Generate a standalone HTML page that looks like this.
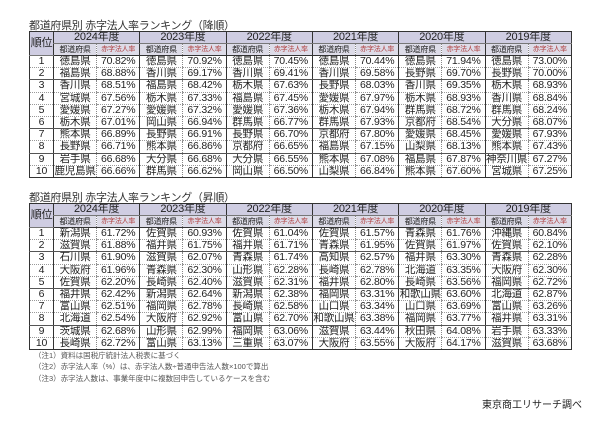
<!DOCTYPE html>
<html><head><meta charset="utf-8"><style>
html,body{margin:0;padding:0;background:#fff;width:600px;height:425px;overflow:hidden}
body{font-family:"Liberation Sans","Noto Sans CJK JP",sans-serif;color:#222;position:relative}
.t{position:absolute;left:29px;font-size:11px;color:#333;letter-spacing:-0.3px}
table{position:absolute;left:29px;border-collapse:collapse;table-layout:fixed;width:543px;border:1.5px solid #333}
td{padding:0;text-align:center;font-size:10.5px;height:11.2px;line-height:11px;border-left:1px dotted #888;border-bottom:1px dotted #999;white-space:nowrap;overflow:hidden;letter-spacing:-0.2px}
td.b{border-left:1px solid #333}
tr.h1 td{background:#cfcde2;font-size:11px;height:11px;border-bottom:1px solid #777}
tr.h2 td{background:#dddce8;font-size:8px;height:11px;border-bottom:1px solid #333}
tr.h2 td.r{color:#b04040;font-size:7px}
td.rk{background:#cfcde2;font-size:10px;border-bottom:1px solid #333}
tr.s td{border-bottom:1px solid #555}
.n{position:absolute;left:34px;font-size:7.5px;color:#555}
</style></head><body>
<div class="t" style="top:17px">都道府県別 赤字法人率ランキング（降順）</div>
<table style="top:31px">
<colgroup><col style="width:24px"><col span="12"></colgroup>
<tr class="h1"><td rowspan="2" class="rk">順位</td><td colspan="2" class="b">2024年度</td><td colspan="2" class="b">2023年度</td><td colspan="2" class="b">2022年度</td><td colspan="2" class="b">2021年度</td><td colspan="2" class="b">2020年度</td><td colspan="2" class="b">2019年度</td></tr>
<tr class="h2"><td class="b">都道府県</td><td class="r">赤字法人率</td><td class="b">都道府県</td><td class="r">赤字法人率</td><td class="b">都道府県</td><td class="r">赤字法人率</td><td class="b">都道府県</td><td class="r">赤字法人率</td><td class="b">都道府県</td><td class="r">赤字法人率</td><td class="b">都道府県</td><td class="r">赤字法人率</td></tr>
<tr><td>1</td><td class="b">徳島県</td><td>70.82%</td><td class="b">徳島県</td><td>70.92%</td><td class="b">徳島県</td><td>70.45%</td><td class="b">徳島県</td><td>70.44%</td><td class="b">徳島県</td><td>71.94%</td><td class="b">徳島県</td><td>73.00%</td></tr>
<tr class="s"><td>2</td><td class="b">福島県</td><td>68.88%</td><td class="b">香川県</td><td>69.17%</td><td class="b">香川県</td><td>69.41%</td><td class="b">香川県</td><td>69.58%</td><td class="b">長野県</td><td>69.70%</td><td class="b">長野県</td><td>70.00%</td></tr>
<tr><td>3</td><td class="b">香川県</td><td>68.51%</td><td class="b">福島県</td><td>68.42%</td><td class="b">栃木県</td><td>67.63%</td><td class="b">長野県</td><td>68.03%</td><td class="b">香川県</td><td>69.35%</td><td class="b">栃木県</td><td>68.93%</td></tr>
<tr><td>4</td><td class="b">宮城県</td><td>67.56%</td><td class="b">栃木県</td><td>67.33%</td><td class="b">福島県</td><td>67.45%</td><td class="b">愛媛県</td><td>67.97%</td><td class="b">栃木県</td><td>68.93%</td><td class="b">香川県</td><td>68.84%</td></tr>
<tr><td>5</td><td class="b">愛媛県</td><td>67.27%</td><td class="b">愛媛県</td><td>67.32%</td><td class="b">愛媛県</td><td>67.36%</td><td class="b">栃木県</td><td>67.94%</td><td class="b">群馬県</td><td>68.72%</td><td class="b">群馬県</td><td>68.24%</td></tr>
<tr class="s"><td>6</td><td class="b">栃木県</td><td>67.01%</td><td class="b">岡山県</td><td>66.94%</td><td class="b">群馬県</td><td>66.77%</td><td class="b">群馬県</td><td>67.93%</td><td class="b">京都府</td><td>68.54%</td><td class="b">大分県</td><td>68.07%</td></tr>
<tr><td>7</td><td class="b">熊本県</td><td>66.89%</td><td class="b">長野県</td><td>66.91%</td><td class="b">長野県</td><td>66.70%</td><td class="b">京都府</td><td>67.80%</td><td class="b">愛媛県</td><td>68.45%</td><td class="b">愛媛県</td><td>67.93%</td></tr>
<tr class="s"><td>8</td><td class="b">長野県</td><td>66.71%</td><td class="b">熊本県</td><td>66.86%</td><td class="b">京都府</td><td>66.65%</td><td class="b">福島県</td><td>67.15%</td><td class="b">山梨県</td><td>68.13%</td><td class="b">熊本県</td><td>67.43%</td></tr>
<tr><td>9</td><td class="b">岩手県</td><td>66.68%</td><td class="b">大分県</td><td>66.68%</td><td class="b">大分県</td><td>66.55%</td><td class="b">熊本県</td><td>67.08%</td><td class="b">福島県</td><td>67.87%</td><td class="b">神奈川県</td><td>67.27%</td></tr>
<tr><td>10</td><td class="b">鹿児島県</td><td>66.66%</td><td class="b">群馬県</td><td>66.62%</td><td class="b">岡山県</td><td>66.50%</td><td class="b">山梨県</td><td>66.84%</td><td class="b">熊本県</td><td>67.60%</td><td class="b">宮城県</td><td>67.25%</td></tr>
</table>

<div class="t" style="top:189px">都道府県別 赤字法人率ランキング（昇順）</div>
<table style="top:203px">
<colgroup><col style="width:24px"><col span="12"></colgroup>
<tr class="h1"><td rowspan="2" class="rk">順位</td><td colspan="2" class="b">2024年度</td><td colspan="2" class="b">2023年度</td><td colspan="2" class="b">2022年度</td><td colspan="2" class="b">2021年度</td><td colspan="2" class="b">2020年度</td><td colspan="2" class="b">2019年度</td></tr>
<tr class="h2"><td class="b">都道府県</td><td class="r">赤字法人率</td><td class="b">都道府県</td><td class="r">赤字法人率</td><td class="b">都道府県</td><td class="r">赤字法人率</td><td class="b">都道府県</td><td class="r">赤字法人率</td><td class="b">都道府県</td><td class="r">赤字法人率</td><td class="b">都道府県</td><td class="r">赤字法人率</td></tr>
<tr><td>1</td><td class="b">新潟県</td><td>61.72%</td><td class="b">佐賀県</td><td>60.93%</td><td class="b">佐賀県</td><td>61.04%</td><td class="b">佐賀県</td><td>61.57%</td><td class="b">青森県</td><td>61.76%</td><td class="b">沖縄県</td><td>60.84%</td></tr>
<tr class="s"><td>2</td><td class="b">滋賀県</td><td>61.88%</td><td class="b">福井県</td><td>61.75%</td><td class="b">福井県</td><td>61.71%</td><td class="b">青森県</td><td>61.95%</td><td class="b">佐賀県</td><td>61.97%</td><td class="b">佐賀県</td><td>62.10%</td></tr>
<tr><td>3</td><td class="b">石川県</td><td>61.90%</td><td class="b">滋賀県</td><td>62.07%</td><td class="b">青森県</td><td>61.74%</td><td class="b">高知県</td><td>62.57%</td><td class="b">福井県</td><td>63.30%</td><td class="b">青森県</td><td>62.28%</td></tr>
<tr><td>4</td><td class="b">大阪府</td><td>61.96%</td><td class="b">青森県</td><td>62.30%</td><td class="b">山形県</td><td>62.28%</td><td class="b">長崎県</td><td>62.78%</td><td class="b">北海道</td><td>63.35%</td><td class="b">大阪府</td><td>62.30%</td></tr>
<tr class="s"><td>5</td><td class="b">佐賀県</td><td>62.20%</td><td class="b">長崎県</td><td>62.40%</td><td class="b">滋賀県</td><td>62.31%</td><td class="b">福井県</td><td>62.80%</td><td class="b">長崎県</td><td>63.56%</td><td class="b">福岡県</td><td>62.72%</td></tr>
<tr><td>6</td><td class="b">福井県</td><td>62.42%</td><td class="b">新潟県</td><td>62.64%</td><td class="b">新潟県</td><td>62.38%</td><td class="b">福岡県</td><td>63.31%</td><td class="b">和歌山県</td><td>63.60%</td><td class="b">北海道</td><td>62.87%</td></tr>
<tr><td>7</td><td class="b">富山県</td><td>62.51%</td><td class="b">福岡県</td><td>62.78%</td><td class="b">長崎県</td><td>62.58%</td><td class="b">山口県</td><td>63.34%</td><td class="b">山口県</td><td>63.69%</td><td class="b">富山県</td><td>63.26%</td></tr>
<tr class="s"><td>8</td><td class="b">北海道</td><td>62.54%</td><td class="b">大阪府</td><td>62.92%</td><td class="b">富山県</td><td>62.70%</td><td class="b">和歌山県</td><td>63.38%</td><td class="b">福岡県</td><td>63.77%</td><td class="b">福井県</td><td>63.31%</td></tr>
<tr><td>9</td><td class="b">茨城県</td><td>62.68%</td><td class="b">山形県</td><td>62.99%</td><td class="b">福岡県</td><td>63.06%</td><td class="b">滋賀県</td><td>63.44%</td><td class="b">秋田県</td><td>64.08%</td><td class="b">岩手県</td><td>63.33%</td></tr>
<tr><td>10</td><td class="b">長崎県</td><td>62.72%</td><td class="b">富山県</td><td>63.13%</td><td class="b">三重県</td><td>63.07%</td><td class="b">大阪府</td><td>63.55%</td><td class="b">大阪府</td><td>64.17%</td><td class="b">滋賀県</td><td>63.68%</td></tr>
</table>

<div class="n" style="top:350px">（注1）資料は国税庁統計法人税表に基づく</div>
<div class="n" style="top:361px">（注2）赤字法人率（%）は、赤字法人数÷普通申告法人数×100で算出</div>
<div class="n" style="top:373px">（注3）赤字法人数は、事業年度中に複数回申告しているケースを含む</div>
<div style="position:absolute;left:482px;top:396px;font-size:10px;color:#222">東京商工リサーチ調べ</div>
</body></html>
